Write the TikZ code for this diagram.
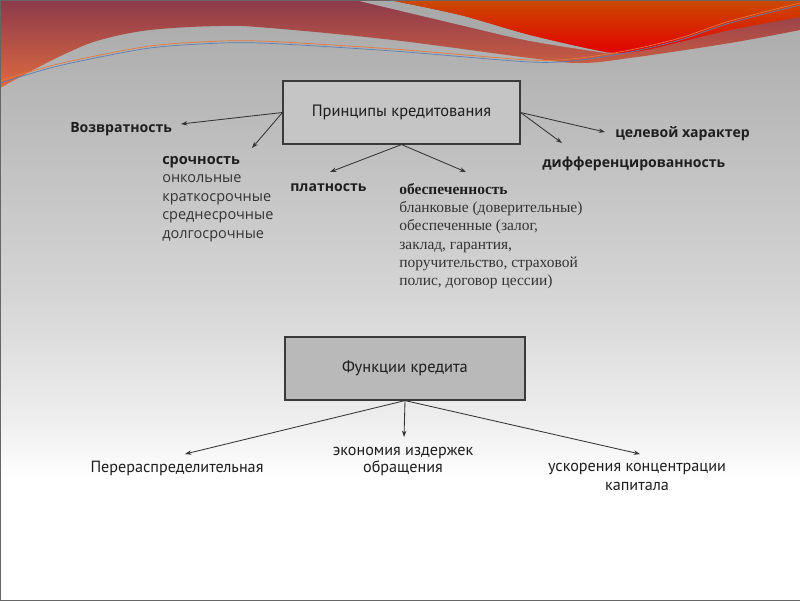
\documentclass[tikz,border=0pt]{standalone}
\usepackage{fontspec}
\setmainfont{Open Sans}
\newfontfamily\narrowsans{PT Sans}
\newfontfamily\serifru{Liberation Serif}
\usetikzlibrary{arrows.meta}

\definecolor{bgtop}{HTML}{A9A9A9}
\definecolor{bghigh}{HTML}{BBBBBB}
\definecolor{bgmid}{HTML}{D6D6D6}
\definecolor{bglow}{HTML}{EEEEEE}
\definecolor{bandtop}{HTML}{8C3A4C}
\definecolor{bandbottom}{HTML}{DE6A40}
\definecolor{redtop}{HTML}{CC4A00}
\definecolor{redbottom}{HTML}{E30000}
\definecolor{lineorange}{HTML}{E8783C}
\definecolor{lineblue}{HTML}{5B7DB5}
\definecolor{boxlight}{HTML}{C5C5C5}
\definecolor{boxdark}{HTML}{B9B9B9}
\definecolor{boxedge}{HTML}{3A3A3A}
\definecolor{textdark}{HTML}{1E1E1E}
\definecolor{textgray}{HTML}{333333}

\begin{document}
\begin{tikzpicture}[x=0.025cm,y=-0.025cm]
    \pgfdeclareverticalshading{slidebg}{100bp}%
        {color(0bp)=(white); color(35bp)=(white); color(40bp)=(bglow);
        color(50bp)=(bgmid); color(65bp)=(bghigh); color(75bp)=(bgtop); color(100bp)=(bgtop)}
    \tikzstyle{box}=[draw=boxedge, line width=0.8pt, shape=rectangle, minimum width=5.925cm, minimum height=1.575cm, text=textdark, font=\narrowsans\fontsize{11.7}{14}\selectfont]
    \tikzstyle{head}=[inner sep=0pt, text=textdark, font=\bfseries\fontsize{10}{13}\selectfont]
    \tikzstyle{list}=[inner sep=0pt, align=left, text=textgray, font=\fontsize{10.3}{13.1}\selectfont]
    \tikzstyle{serif list}=[inner sep=0pt, align=left, text=textgray, font=\serifru\fontsize{11}{13}\selectfont]
    \tikzstyle{function}=[inner sep=0pt, align=center, text=textdark, font=\narrowsans\fontsize{11.5}{12}\selectfont]
    \tikzstyle{arrow}=[-{Stealth[length=4.5pt,width=3.2pt]}, draw=textgray, line width=0.6pt]

    % background of the slide
    \useasboundingbox (0,0) rectangle (800,600);
    \shade[shading=slidebg] (0,0) rectangle (800,600);
    \shade[top color=bandtop, bottom color=bandbottom] (0,0) -- (800,0) -- plot[smooth, tension=0.6] coordinates {(800,30) (730,43) (630,58) (580,63) (530,58) (393,40) (270,28) (220,26) (150,30) (100,40) (67,53) (33,70) (0,88)} -- cycle;
    \fill[bgtop] plot[smooth] coordinates {(355,0) (460,25) (530,41) (612,54)} -- plot[smooth] coordinates {(612,54) (530,35) (460,15) (389,0)} -- cycle;
    \shade[top color=redtop, bottom color=redbottom] (389,0) -- plot[smooth] coordinates {(389,0) (460,15) (530,35) (607,52) (640,51) (680,42) (730,30) (800,17)} -- (800,0) -- cycle;
    \draw[lineorange, line width=0.5pt] plot[smooth] coordinates {(0,81) (50,66) (100,55) (150,46) (200,42) (260,41) (393,49) (530,60) (580,58) (630,50) (680,38) (730,21) (800,3)};
    \draw[lineblue, line width=0.5pt] plot[smooth] coordinates {(0,83) (50,68) (100,57) (150,48) (200,44) (260,43) (393,51) (530,62) (580,60) (630,52) (680,40) (730,23) (800,5)};
    \draw[black!60, line width=0.6pt] (0,0) rectangle (800,600);

    % principles of crediting
    \node [style=box, fill=boxlight] (principles) at (401.5,112.5) {Принципы кредитования};
    \node [style=head, anchor=base west] (vozvr) at (70,132) {Возвратность};
    \node [style=list, anchor=north west] (sroch) at (162,156) {\textbf{\color{textdark}срочность}\\онкольные\\краткосрочные\\среднесрочные\\долгосрочные};
    \node [style=head, anchor=base west] (plat) at (290,191) {платность};
    \node [style=serif list, anchor=north west] (obesp) at (399,183) {\textbf{\color{textdark}обеспеченность}\\бланковые (доверительные)\\обеспеченные (залог,\\заклад, гарантия,\\поручительство, страховой\\полис, договор цессии)};
    \node [style=head, anchor=base west] (cel) at (615,137) {целевой характер};
    \node [style=head, anchor=base west] (diff) at (542,167) {дифференцированность};

    \coordinate (tipVozvr) at (181,124);
    \coordinate (tipSroch) at (252,148);
    \coordinate (tipPlat) at (330,172);
    \coordinate (tipObesp) at (466,172);
    \coordinate (tipCel) at (605,132);
    \coordinate (tipDiff) at (562,143);
    \draw [style=arrow] (principles.west) to (tipVozvr);
    \draw [style=arrow] (principles.west) to (tipSroch);
    \draw [style=arrow] (principles.south) to (tipPlat);
    \draw [style=arrow] (principles.south) to (tipObesp);
    \draw [style=arrow] (principles.east) to (tipCel);
    \draw [style=arrow] (principles.east) to (tipDiff);

    % functions of credit
    \node [style=box, fill=boxdark, minimum width=6cm] (functions) at (405,368.5) {Функции кредита};
    \node [style=function, anchor=base] (perer) at (177,472) {Перераспределительная};
    \node [style=function, anchor=base] (ekon) at (403,455) {экономия издержек};
    \node [style=function, anchor=base] (obr) at (403,472) {обращения};
    \node [style=function, anchor=base] (uskor) at (637,471) {ускорения концентрации};
    \node [style=function, anchor=base] (kapit) at (637,490) {капитала};

    \coordinate (tipPerer) at (185,454);
    \coordinate (tipEkon) at (404,437);
    \coordinate (tipUskor) at (640,454);
    \draw [style=arrow] (functions.south) to (tipPerer);
    \draw [style=arrow] (functions.south) to (tipEkon);
    \draw [style=arrow] (functions.south) to (tipUskor);
\end{tikzpicture}
\end{document}
